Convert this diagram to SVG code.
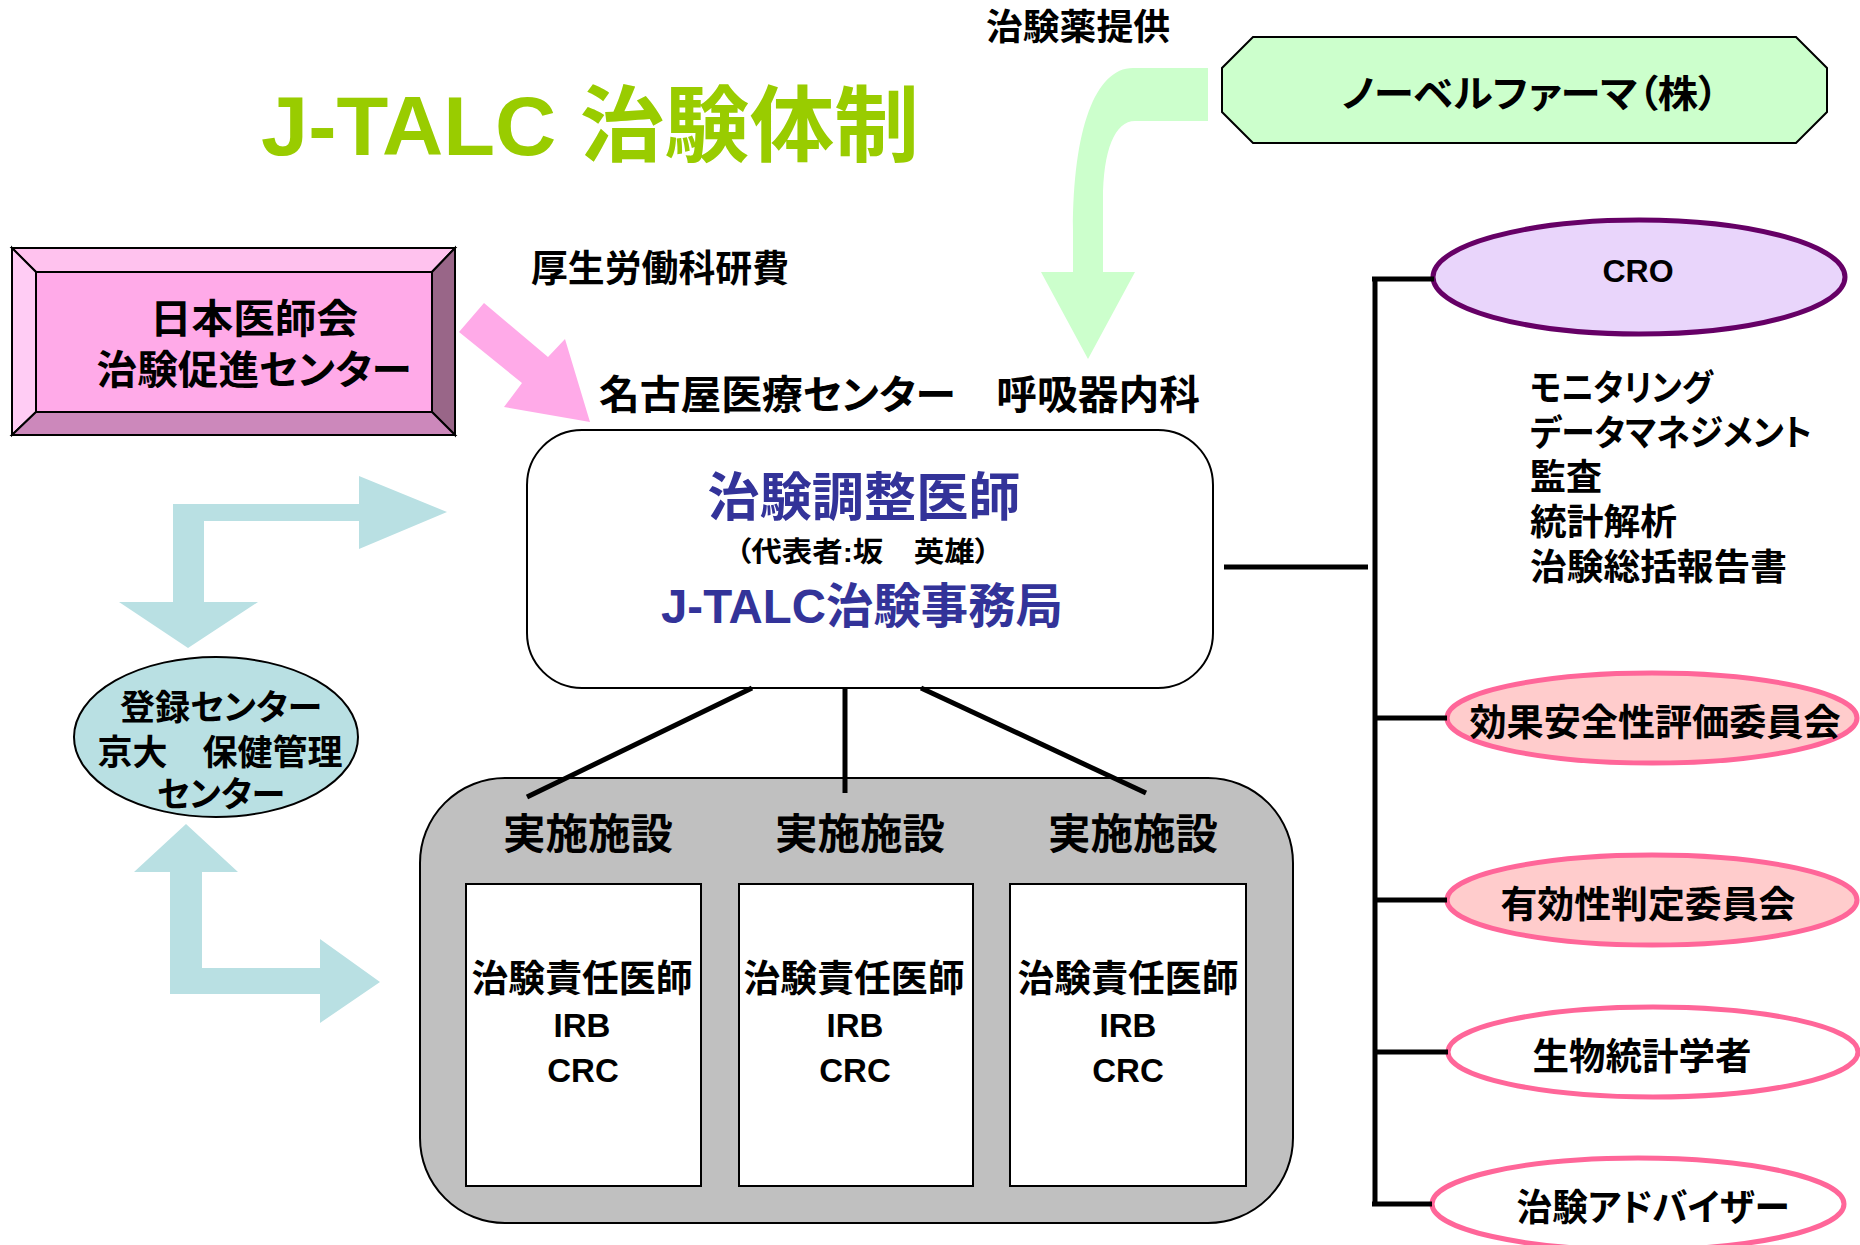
<svg xmlns="http://www.w3.org/2000/svg" width="1860" height="1245" viewBox="0 0 1860 1245">
<defs>
<style>
text { font-family: "Liberation Sans", "Noto Sans CJK JP", sans-serif; font-weight: bold; font-feature-settings: "palt"; fill: #000; }
.c { text-anchor: middle; }
.blue { fill: #333399; }
.conn { stroke: #000; stroke-width: 5; fill: none; }
.thin { stroke: #000; stroke-width: 2; }
.pinkEl { fill: #FFCCCC; stroke: #FF6699; stroke-width: 5; }
.whiteEl { fill: #FFFFFF; stroke: #FF6699; stroke-width: 5; }
.cyan { fill: #B9E0E3; }
.site { fill: #FFFFFF; stroke: #000; stroke-width: 2; }
</style>
</defs>
<rect width="1860" height="1245" fill="#FFFFFF"/>

<g id="title">
<text x="261" y="155" font-size="83" fill="#99CC00" style="fill:#99CC00" textLength="658" lengthAdjust="spacingAndGlyphs">J-TALC 治験体制</text>
</g>

<g id="label-drug">
<text x="986" y="40" font-size="36" textLength="184" lengthAdjust="spacingAndGlyphs">治験薬提供</text>
</g>

<g id="nobelpharma">
<polygon points="1253,37 1796,37 1827,68 1827,112 1796,143 1253,143 1222,112 1222,68" fill="#CCFFCC" class="thin"/>
<text x="1530" y="107" font-size="38" class="c" textLength="377" lengthAdjust="spacingAndGlyphs">ノーベルファーマ（株）</text>
</g>

<g id="jma">
<rect x="36" y="272" width="396" height="140" fill="#FFAAE8"/>
<polygon points="12,248 455,248 432,272 36,272" fill="#FFC2EE" class="thin"/>
<polygon points="12,248 36,272 36,412 12,435" fill="#FFCCF4" class="thin"/>
<polygon points="455,248 455,435 432,412 432,272" fill="#996688" class="thin"/>
<polygon points="12,435 36,412 432,412 455,435" fill="#CC88BB" class="thin"/>
<rect x="36" y="272" width="396" height="140" fill="none" class="thin"/>
<text x="254" y="333" font-size="40" class="c" textLength="208" lengthAdjust="spacingAndGlyphs">日本医師会</text>
<text x="254" y="384" font-size="40" class="c" textLength="315" lengthAdjust="spacingAndGlyphs">治験促進センター</text>
</g>

<g id="label-grant">
<text x="531" y="282" font-size="37" textLength="258" lengthAdjust="spacingAndGlyphs">厚生労働科研費</text>
</g>

<g id="label-nagoya">
<text x="599" y="409" font-size="40" textLength="601" lengthAdjust="spacingAndGlyphs">名古屋医療センター　呼吸器内科</text>
</g>

<g id="coordinator">
<rect x="527" y="430" width="686" height="258" rx="55" ry="55" fill="#FFFFFF" class="thin"/>
<text x="864" y="516" font-size="52" class="c blue" textLength="313" lengthAdjust="spacingAndGlyphs">治験調整医師</text>
<text x="863" y="562" font-size="28" class="c" textLength="254" lengthAdjust="spacingAndGlyphs">（代表者:坂　英雄）</text>
<text x="862" y="623" font-size="48" class="c blue" textLength="402" lengthAdjust="spacingAndGlyphs">J-TALC治験事務局</text>
</g>

<g id="registration">
<ellipse cx="216" cy="737" rx="142" ry="80" fill="#B9E0E3" class="thin"/>
<text x="221" y="720" font-size="35" class="c" textLength="202" lengthAdjust="spacingAndGlyphs">登録センター</text>
<text x="220" y="765" font-size="35" class="c" textLength="245" lengthAdjust="spacingAndGlyphs">京大　保健管理</text>
<text x="221" y="807" font-size="35" class="c" textLength="128" lengthAdjust="spacingAndGlyphs">センター</text>
</g>

<g id="sites">
<rect x="420" y="778" width="873" height="445" rx="85" ry="85" fill="#C0C0C0" class="thin"/>
<text x="588" y="849" font-size="42" class="c" textLength="170" lengthAdjust="spacingAndGlyphs">実施施設</text>
<text x="860" y="849" font-size="42" class="c" textLength="170" lengthAdjust="spacingAndGlyphs">実施施設</text>
<text x="1133" y="849" font-size="42" class="c" textLength="170" lengthAdjust="spacingAndGlyphs">実施施設</text>
<g id="site1">
<rect x="466" y="884" width="235" height="302" class="site"/>
<text x="582" y="992" font-size="37" class="c" textLength="221" lengthAdjust="spacingAndGlyphs">治験責任医師</text>
<text x="582" y="1037" font-size="33" class="c">IRB</text>
<text x="583" y="1082" font-size="33" class="c">CRC</text>
</g>
<g id="site2">
<rect x="739" y="884" width="234" height="302" class="site"/>
<text x="854" y="992" font-size="37" class="c" textLength="221" lengthAdjust="spacingAndGlyphs">治験責任医師</text>
<text x="855" y="1037" font-size="33" class="c">IRB</text>
<text x="855" y="1082" font-size="33" class="c">CRC</text>
</g>
<g id="site3">
<rect x="1010" y="884" width="236" height="302" class="site"/>
<text x="1128" y="992" font-size="37" class="c" textLength="221" lengthAdjust="spacingAndGlyphs">治験責任医師</text>
<text x="1128" y="1037" font-size="33" class="c">IRB</text>
<text x="1128" y="1082" font-size="33" class="c">CRC</text>
</g>
</g>

<g id="cro">
<ellipse cx="1639" cy="277" rx="206" ry="57" fill="#E9D5FB" stroke="#660066" stroke-width="5"/>
<text x="1638" y="282" font-size="32" class="c">CRO</text>
</g>

<g id="cro-tasks">
<text x="1530" y="401" font-size="36" textLength="183" lengthAdjust="spacingAndGlyphs">モニタリング</text>
<text x="1530" y="446" font-size="36" textLength="282" lengthAdjust="spacingAndGlyphs">データマネジメント</text>
<text x="1530" y="490" font-size="36" textLength="72" lengthAdjust="spacingAndGlyphs">監査</text>
<text x="1530" y="535" font-size="36" textLength="147" lengthAdjust="spacingAndGlyphs">統計解析</text>
<text x="1530" y="580" font-size="36" textLength="257" lengthAdjust="spacingAndGlyphs">治験総括報告書</text>
</g>

<g id="dsmb">
<ellipse cx="1652" cy="718" rx="205" ry="45" class="pinkEl"/>
<text x="1655" y="736" font-size="37" class="c" textLength="371" lengthAdjust="spacingAndGlyphs">効果安全性評価委員会</text>
</g>

<g id="efficacy">
<ellipse cx="1652" cy="900" rx="205" ry="45" class="pinkEl"/>
<text x="1648" y="918" font-size="37" class="c" textLength="295" lengthAdjust="spacingAndGlyphs">有効性判定委員会</text>
</g>

<g id="biostat">
<ellipse cx="1653" cy="1052" rx="205" ry="45" class="whiteEl"/>
<text x="1642" y="1070" font-size="37" class="c" textLength="219" lengthAdjust="spacingAndGlyphs">生物統計学者</text>
</g>

<g id="advisor">
<ellipse cx="1638" cy="1204" rx="206" ry="46" class="whiteEl"/>
<text x="1653" y="1221" font-size="37" class="c" textLength="273" lengthAdjust="spacingAndGlyphs">治験アドバイザー</text>
</g>

<g id="connectors">
<path d="M1208,68 L1133,68 C1095,68 1073,130 1073,230 L1073,272 L1041,272 L1088,359 L1135,272 L1103,272 L1103,200 C1103,150 1115,121 1135,121 L1208,121 Z" fill="#CCFFCC"/>
<polygon points="484,303 548,357 565,339 590,422 504,407 522,383 459,332" fill="#FFAAE8"/>
<path class="cyan" d="M359,476 L447,512 L359,549 L359,521 L204,521 L204,602 L258,602 L188,648 L119,602 L173,602 L173,504 L359,504 Z"/>
<path class="cyan" d="M186,824 L238,872 L202,872 L202,968 L320,968 L320,939 L380,982 L320,1023 L320,994 L170,994 L170,872 L134,872 Z"/>
<line class="conn" x1="752" y1="688" x2="527" y2="797"/>
<line class="conn" x1="845" y1="688" x2="845" y2="793"/>
<line class="conn" x1="921" y1="688" x2="1146" y2="793"/>
<line class="conn" x1="1224" y1="567" x2="1368" y2="567"/>
<line class="conn" x1="1375" y1="277" x2="1375" y2="1206"/>
<line class="conn" x1="1372" y1="279" x2="1434" y2="279"/>
<line class="conn" x1="1375" y1="718" x2="1447" y2="718"/>
<line class="conn" x1="1375" y1="900" x2="1447" y2="900"/>
<line class="conn" x1="1375" y1="1052" x2="1448" y2="1052"/>
<line class="conn" x1="1372" y1="1204" x2="1432" y2="1204"/>
</g>
</svg>
